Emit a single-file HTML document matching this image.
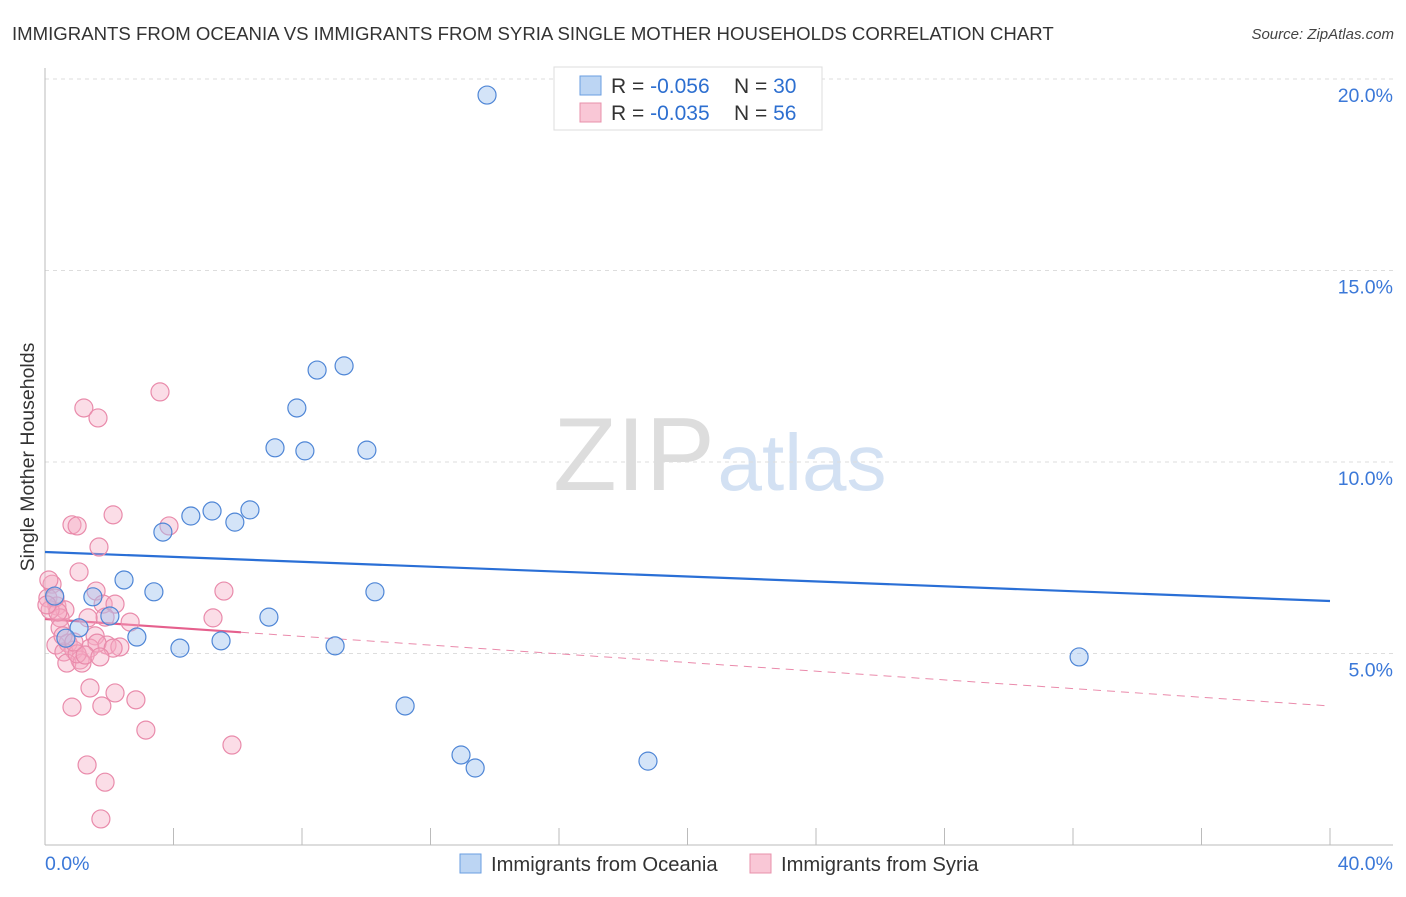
<!DOCTYPE html>
<html><head><meta charset="utf-8"><style>
body{margin:0;background:#fff;font-family:"Liberation Sans",sans-serif;}
svg text{font-family:"Liberation Sans",sans-serif;}
</style></head><body>
<svg id="chart" width="1406" height="892">
<text x="12" y="40" font-size="18.6" fill="#333">IMMIGRANTS FROM OCEANIA VS IMMIGRANTS FROM SYRIA SINGLE MOTHER HOUSEHOLDS CORRELATION CHART</text>
<text x="1394" y="39" font-size="15" fill="#444" text-anchor="end" font-style="italic">Source: ZipAtlas.com</text>
<text transform="translate(34,457) rotate(-90)" font-size="19.5" fill="#333" text-anchor="middle">Single Mother Households</text>
<g><text x="634" y="490" font-size="104" fill="#ddd" text-anchor="middle" font-family="Liberation Serif">ZIP</text><text x="802" y="490" font-size="80" fill="#d3e1f3" text-anchor="middle">atlas</text></g>
<g id="grid"></g><g id="axes"></g><g id="trends"></g><g id="points"></g>
<g>
<rect x="554" y="67" width="268" height="63" fill="#fff" stroke="#ddd"/>
<rect x="580" y="76" width="21" height="19" fill="#bcd5f3" stroke="#6a9ee0"/>
<rect x="580" y="103" width="21" height="19" fill="#f9c7d6" stroke="#e890ab"/>
<text x="611" y="93" font-size="21" fill="#333">R = <tspan fill="#2d6fd0">-0.056</tspan><tspan x="734">N = </tspan><tspan fill="#2d6fd0">30</tspan></text>
<text x="611" y="120" font-size="21" fill="#333">R = <tspan fill="#2d6fd0">-0.035</tspan><tspan x="734">N = </tspan><tspan fill="#2d6fd0">56</tspan></text>
</g>
<g>
<rect x="460" y="854" width="21" height="19" fill="#bcd5f3" stroke="#6a9ee0"/>
<text x="491" y="871" font-size="20.2" fill="#333">Immigrants from Oceania</text>
<rect x="750" y="854" width="21" height="19" fill="#f9c7d6" stroke="#e890ab"/>
<text x="781" y="871" font-size="20.2" fill="#333">Immigrants from Syria</text>
</g>
</svg>
<script>
const oceaniaX=[13.76,9.31,8.47,7.84,7.16,8.09,10.02,6.38,5.20,4.54,5.91,3.67,2.46,3.39,10.27,1.49,2.02,6.97,1.06,2.86,0.65,4.20,5.48,9.03,32.19,11.21,12.95,13.39,18.77,0.3];
const oceaniaY=[19.58,12.51,12.40,11.41,10.37,10.29,10.31,8.75,8.72,8.59,8.43,8.17,6.92,6.61,6.61,6.48,5.98,5.95,5.67,5.43,5.40,5.14,5.33,5.20,4.91,3.63,2.35,2.01,2.19,6.5];
const syriaX=[3.58,1.21,1.65,2.12,0.84,1.0,3.86,1.68,1.06,0.22,5.57,1.59,0.09,0.37,0.62,1.81,2.18,0.47,2.65,0.16,5.23,1.87,1.34,0.47,0.34,0.72,1.56,1.40,1.93,0.90,0.59,1.09,2.33,0.68,1.15,1.0,1.62,2.18,1.40,2.83,3.14,0.84,1.77,5.82,1.31,1.87,1.74,0.12,0.31,0.40,0.06,0.56,1.25,2.12,1.71,0.9];
const syriaY=[11.83,11.41,11.15,8.62,8.36,8.33,8.33,7.78,7.13,6.81,6.63,6.63,6.45,6.24,6.14,6.29,6.29,5.93,5.82,6.14,5.93,5.95,5.93,5.67,5.22,5.27,5.46,5.14,5.22,5.09,5.04,4.83,5.17,4.75,4.75,4.99,5.27,3.97,4.10,3.79,3.0,3.60,3.63,2.61,2.09,1.64,0.68,6.92,6.45,6.08,6.27,5.46,4.96,5.14,4.91,5.3];
const yTicks=[5,10,15,20];
const xTickVals=[0,4,8,12,16,20,24,28,32,36,40];
const oceaniaTrend=[7.65,6.37];
const syriaTrend=[5.9,3.63];
const sx=v=>45+v/40*1285, sy=v=>845-v*38.3;
const NS="http://www.w3.org/2000/svg";
function mk(tag,parent,attrs){const e=document.createElementNS(NS,tag);for(const k in attrs)e.setAttribute(k,attrs[k]);document.getElementById(parent).appendChild(e);return e;}
yTicks.forEach(t=>{
 const l=mk('line','grid',{x1:45,x2:1393,y1:sy(t),y2:sy(t),stroke:'#ddd','stroke-dasharray':'4,4'});
 
 
 const tx=mk('text','grid',{x:1393,y:sy(t)+23,'font-size':19.5,fill:'#3b78d8','text-anchor':'end'});
 tx.textContent=t.toFixed(1)+'%';
 
 
});
const ax=mk('line','axes',{x1:45,x2:45,y1:68,y2:845,stroke:'#bbb'});


const bx=mk('line','axes',{x1:45,x2:1393,y1:845,y2:845,stroke:'#bbb'});


xTickVals.forEach(t=>{
 const l=mk('line','axes',{x1:sx(t),x2:sx(t),y1:828,y2:845,stroke:'#bbb'});
 
 
});
[[0,'start',45],[40,'end',1393]].forEach(([v,a,x])=>{
 const tx=mk('text','axes',{x:x,y:870,'font-size':19.5,fill:'#3b78d8','text-anchor':a});
 tx.textContent=v.toFixed(1)+'%';
 
 
});
function pts(X,Y,fill,stroke,name){X.forEach((x,i)=>{
 const c=mk('circle','points',{cx:sx(x),cy:sy(Y[i]),r:9,fill:fill,stroke:stroke,'stroke-width':1.2});
 
 
});}
pts(syriaX,syriaY,'rgba(246,170,195,0.4)','#e98bab','syria-point');
pts(oceaniaX,oceaniaY,'rgba(160,195,240,0.45)','#4f86d6','oceania-point');
const t1=mk('line','trends',{x1:sx(0),y1:sy(oceaniaTrend[0]),x2:sx(40),y2:sy(oceaniaTrend[1]),stroke:'#2a6fd6','stroke-width':2.2});


const sAt=x=>syriaTrend[0]+(syriaTrend[1]-syriaTrend[0])*x/40;
const t2=mk('line','trends',{x1:sx(0),y1:sy(sAt(0)),x2:sx(6.1),y2:sy(sAt(6.1)),stroke:'#e5608d','stroke-width':2.2});


const t3=mk('line','trends',{x1:sx(6.1),y1:sy(sAt(6.1)),x2:sx(40),y2:sy(sAt(40)),stroke:'#ea8aab','stroke-width':1,'stroke-dasharray':'8,6'});


</script>
</body></html>
